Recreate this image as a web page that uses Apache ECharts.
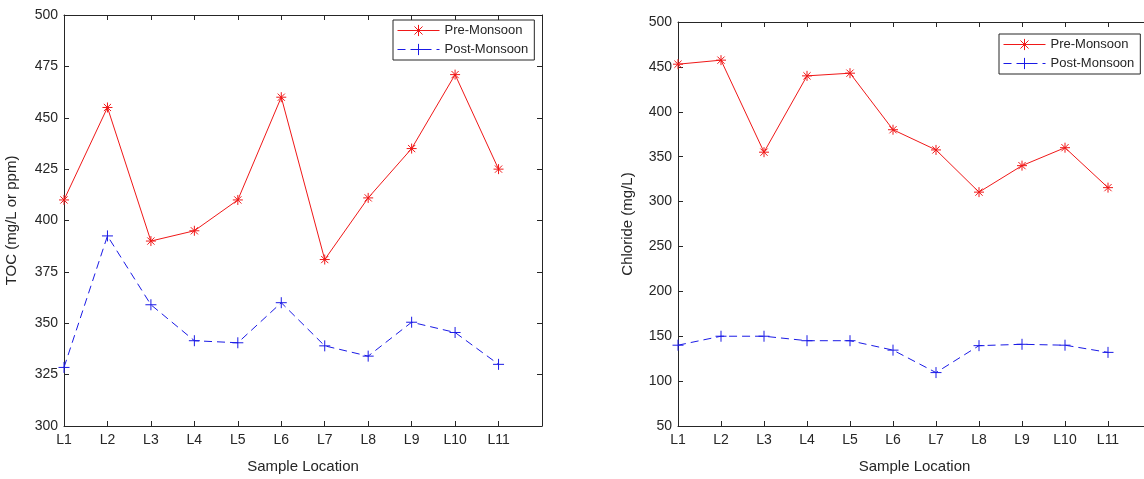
<!DOCTYPE html>
<html>
<head>
<meta charset="utf-8">
<script src="https://cdn.jsdelivr.net/npm/echarts@6/dist/echarts.min.js"></script>
<style>
  html, body { margin: 0; padding: 0; background: #fff; overflow: hidden; }
  /* a bit wider than the window: the right panel's box runs past the edge */
  #chart { width: 1156px; height: 479px; }
</style>
</head>
<body>
<div id="chart"></div>
<script>
// sample locations (an empty slot at the end leaves the gap before the right edge)
const categories = ["L1", "L2", "L3", "L4", "L5", "L6", "L7", "L8", "L9", "L10", "L11"];

// TOC (mg/L or ppm)
const tocPre = [410, 455, 390, 395, 410, 460, 381, 411, 435, 471, 425];
const tocPost = [328.5, 392.5, 359, 341.5, 340.5, 360, 339, 334, 350.5, 345.5, 330];

// Chloride (mg/L)
const clPre = [453, 457.5, 355, 440, 443, 380, 357.5, 310.5, 340, 360, 315.5];
const clPost = [140, 150, 150, 145, 145, 134.5, 109.5, 139.5, 141, 140, 132];

const axisColor = "#262626";
const font = "'Liberation Sans', Arial, sans-serif";
const redColor = "#f01818";
const blueColor = "#1a1ae6";
const starPath = "path://M0,-5L0,5M-5,0L5,0M-3.6,-3.6L3.6,3.6M-3.6,3.6L3.6,-3.6";
const plusPath = "path://M0,-5L0,5M-5,0L5,0";

const axisData = categories.concat([""]);

function xAxes(gridIndex) {
  return [
    {
      type: "category",
      gridIndex: gridIndex,
      data: axisData,
      boundaryGap: false,
      name: "Sample Location",
      nameLocation: "middle",
      nameGap: 33,
      nameTextStyle: { color: axisColor, fontSize: 15, fontFamily: font },
      axisLine: { lineStyle: { color: axisColor, width: 1 } },
      axisTick: { inside: true, length: 5, lineStyle: { color: axisColor } },
      axisLabel: { color: axisColor, fontSize: 14, fontFamily: font, margin: 7, interval: 0 },
      splitLine: { show: false },
    },
    {
      type: "category",
      gridIndex: gridIndex,
      position: "top",
      data: axisData,
      boundaryGap: false,
      axisLine: { lineStyle: { color: axisColor, width: 1 } },
      axisTick: { inside: true, length: 5, lineStyle: { color: axisColor }, interval: 0 },
      axisLabel: { show: false },
      splitLine: { show: false },
    },
  ];
}

function yAxes(gridIndex, name, min, max, interval, nameGap) {
  return [
    {
      type: "value",
      gridIndex: gridIndex,
      min: min,
      max: max,
      interval: interval,
      name: name,
      nameLocation: "middle",
      nameGap: nameGap,
      nameTextStyle: { color: axisColor, fontSize: 15, fontFamily: font },
      axisLine: { show: true, lineStyle: { color: axisColor, width: 1 } },
      axisTick: { show: true, inside: true, length: 5, lineStyle: { color: axisColor } },
      axisLabel: { color: axisColor, fontSize: 14, fontFamily: font, margin: 6 },
      splitLine: { show: false },
    },
    {
      type: "value",
      gridIndex: gridIndex,
      position: "right",
      min: min,
      max: max,
      interval: interval,
      axisLine: { show: true, lineStyle: { color: axisColor, width: 1 } },
      axisTick: { show: true, inside: true, length: 5, lineStyle: { color: axisColor } },
      axisLabel: { show: false },
      splitLine: { show: false },
    },
  ];
}

function preSeries(data, xi, yi) {
  return {
    name: "Pre-Monsoon",
    type: "line",
    xAxisIndex: xi,
    yAxisIndex: yi,
    data: data,
    symbol: starPath,
    symbolSize: 10,
    itemStyle: { color: redColor, borderColor: redColor, borderWidth: 1 },
    lineStyle: { color: redColor, width: 1 },
  };
}

function postSeries(data, xi, yi) {
  return {
    name: "Post-Monsoon",
    type: "line",
    xAxisIndex: xi,
    yAxisIndex: yi,
    data: data,
    symbol: plusPath,
    symbolSize: 11,
    itemStyle: { color: blueColor, borderColor: blueColor, borderWidth: 1 },
    lineStyle: { color: blueColor, width: 1, type: [8, 5] },
  };
}

function legendAt(left, top) {
  return {
    left: left,
    top: top,
    orient: "vertical",
    backgroundColor: "#fff",
    borderColor: axisColor,
    borderWidth: 1,
    borderRadius: 0,
    padding: [4, 6, 4, 4],
    itemGap: 6,
    itemWidth: 42,
    itemHeight: 14,
    selectedMode: false,
    lineStyle: { width: 1 },
    itemStyle: { borderWidth: 1 },
    textStyle: { color: axisColor, fontSize: 13, fontFamily: font },
    data: ["Pre-Monsoon", "Post-Monsoon"],
  };
}

const chart = echarts.init(document.getElementById("chart"));
chart.setOption({
  animation: false,
  backgroundColor: "#fff",
  grid: [
    { left: 64, top: 15, width: 478, height: 412 },
    { left: 678, top: 22, width: 473, height: 406 },
  ],
  legend: [legendAt(393, 20), legendAt(999, 34)],
  xAxis: xAxes(0).concat(xAxes(1)),
  yAxis: yAxes(0, "TOC (mg/L or ppm)", 300, 500, 25, 45).concat(
    yAxes(1, "Chloride (mg/L)", 50, 500, 50, 43)
  ),
  series: [
    preSeries(tocPre, 0, 0),
    postSeries(tocPost, 0, 0),
    preSeries(clPre, 2, 2),
    postSeries(clPost, 2, 2),
  ],
});
</script>
</body>
</html>
